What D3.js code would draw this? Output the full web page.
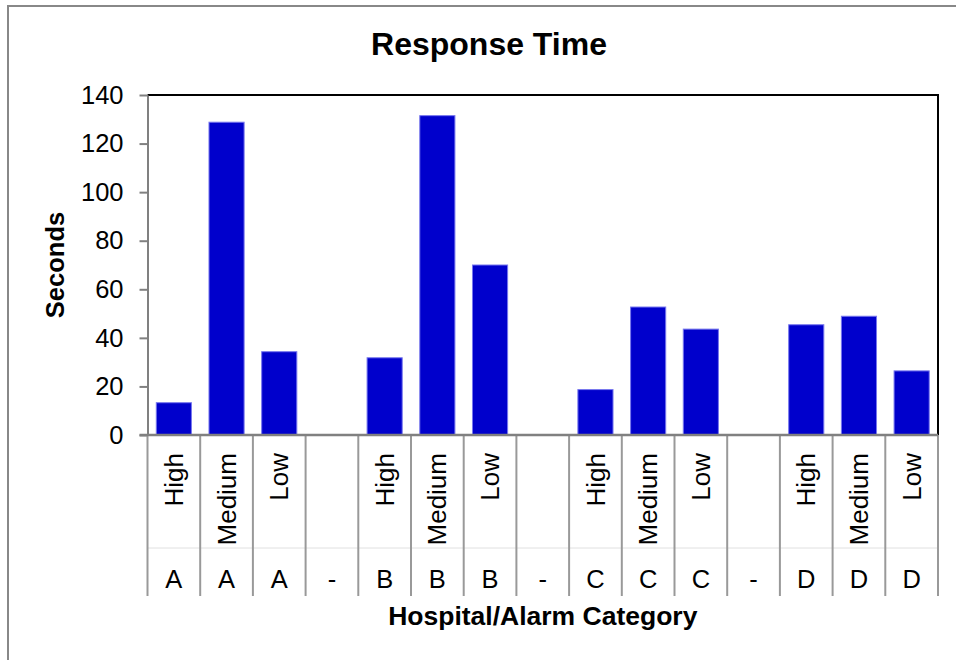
<!DOCTYPE html>
<html>
<head>
<meta charset="utf-8">
<script src="https://d3js.org/d3.v7.min.js"></script>
<style>
  body { margin: 0; background: #fff; }
  svg text { font-family: Arial, "Liberation Sans", sans-serif; fill: #000; }
</style>
</head>
<body>
<div id="chart"></div>
<script>
// slots on the category axis (blank slots between hospitals)
var levels = ["High", "Medium", "Low", "", "High", "Medium", "Low", "", "High", "Medium", "Low", "", "High", "Medium", "Low"];
var hospitals = ["A", "A", "A", "-", "B", "B", "B", "-", "C", "C", "C", "-", "D", "D", "D"];
var seconds = [13.3, 128.8, 34.3, null, 31.8, 131.5, 70.0, null, 18.7, 52.7, 43.6, null, 45.4, 48.9, 26.4];
var yTicks = [0, 20, 40, 60, 80, 100, 120, 140];

var width = 956, height = 660;
var plot = { left: 147.5, right: 938, top: 95, bottom: 435 };

var svg = d3.select("#chart").append("svg")
    .attr("width", width)
    .attr("height", height);

// outer chart border (runs off the right/bottom)
svg.append("rect")
    .attr("x", 8).attr("y", 6)
    .attr("width", 980).attr("height", 700)
    .attr("fill", "#fff")
    .attr("stroke", "#888").attr("stroke-width", 2);

var idx = d3.range(seconds.length);

var x = d3.scaleBand()
    .domain(idx)
    .range([plot.left, plot.right])
    .padding(0);

var xBar = d3.scaleBand()
    .domain(idx)
    .range([plot.left, plot.right])
    .paddingInner(1 / 3)
    .paddingOuter(1 / 6);

var y = d3.scaleLinear()
    .domain([0, 140])
    .range([plot.bottom, plot.top]);

// plot frame top + right (black)
svg.append("path")
    .attr("d", "M" + plot.left + "," + plot.top + "H" + plot.right + "V" + plot.bottom)
    .attr("fill", "none")
    .attr("stroke", "#000")
    .attr("stroke-width", 2);

// bars
svg.append("g")
  .selectAll("rect")
    .data(idx.filter(function(i) { return seconds[i] != null; }))
  .enter().append("rect")
    .attr("x", function(i) { return xBar(i); })
    .attr("y", function(i) { return y(seconds[i]); })
    .attr("width", xBar.bandwidth())
    .attr("height", function(i) { return y(0) - y(seconds[i]); })
    .attr("fill", "#0000cc")
    .attr("stroke", "#7777ee")
    .attr("stroke-width", 1);

// y axis
var yAxis = svg.append("g")
    .attr("transform", "translate(" + plot.left + ",0)")
    .call(d3.axisLeft(y).tickValues(yTicks).tickSize(8).tickSizeOuter(0).tickPadding(16));
yAxis.select(".domain").attr("stroke", "#808080").attr("stroke-width", 2);
yAxis.selectAll(".tick line").attr("stroke", "#808080").attr("stroke-width", 2);
yAxis.selectAll(".tick text")
    .attr("font-size", 25.5)
    .style("font-family", "Arial, 'Liberation Sans', sans-serif")
    .attr("fill", "#000");

// category table below axis
var tableBottom = 596, rowSplit = 548;

svg.append("line")
    .attr("x1", plot.left).attr("x2", plot.right)
    .attr("y1", rowSplit).attr("y2", rowSplit)
    .attr("stroke", "#e0e0e0").attr("stroke-width", 1);

svg.append("g")
  .selectAll("line")
    .data(idx.concat([seconds.length]))
  .enter().append("line")
    .attr("x1", function(i) { return i < seconds.length ? x(i) : plot.right; })
    .attr("x2", function(i) { return i < seconds.length ? x(i) : plot.right; })
    .attr("y1", plot.bottom)
    .attr("y2", tableBottom)
    .attr("stroke", "#999")
    .attr("stroke-width", 2);

// zero line
svg.append("line")
    .attr("x1", plot.left - 8).attr("x2", plot.right)
    .attr("y1", y(0)).attr("y2", y(0))
    .attr("stroke", "#808080").attr("stroke-width", 2.5);

// level labels (rotated)
svg.append("g")
  .selectAll("text")
    .data(idx)
  .enter().append("text")
    .attr("transform", function(i) {
      return "translate(" + (x(i) + x.bandwidth() / 2) + ",453) rotate(-90)";
    })
    .attr("text-anchor", "end")
    .attr("dy", "0.35em")
    .attr("font-size", 26)
    .text(function(i) { return levels[i]; });

// hospital labels
svg.append("g")
  .selectAll("text")
    .data(idx)
  .enter().append("text")
    .attr("x", function(i) { return x(i) + x.bandwidth() / 2; })
    .attr("y", 588)
    .attr("text-anchor", "middle")
    .attr("font-size", 25.5)
    .text(function(i) { return hospitals[i]; });

// titles
svg.append("text")
    .attr("x", 489)
    .attr("y", 55)
    .attr("text-anchor", "middle")
    .attr("font-size", 32)
    .attr("font-weight", "bold")
    .text("Response Time");

svg.append("text")
    .attr("x", (plot.left + plot.right) / 2)
    .attr("y", 625)
    .attr("text-anchor", "middle")
    .attr("font-size", 26.5)
    .attr("font-weight", "bold")
    .text("Hospital/Alarm Category");

svg.append("text")
    .attr("transform", "translate(64," + ((plot.top + plot.bottom) / 2) + ") rotate(-90)")
    .attr("text-anchor", "middle")
    .attr("font-size", 25.5)
    .attr("font-weight", "bold")
    .text("Seconds");
</script>
</body>
</html>
